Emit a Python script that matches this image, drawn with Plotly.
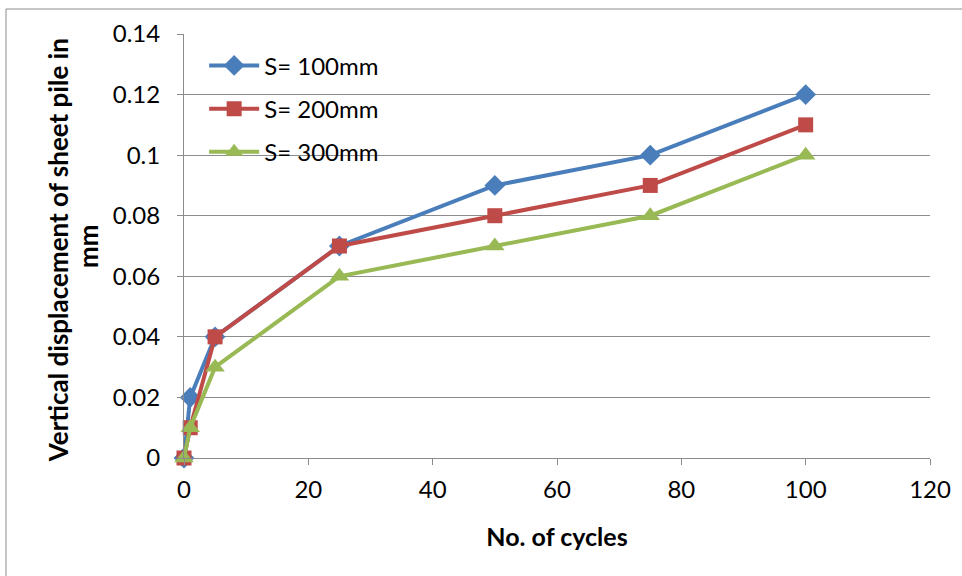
import plotly.graph_objects as go

cycles = [0, 1, 5, 25, 50, 75, 100]
s100 = [0, 0.02, 0.04, 0.07, 0.09, 0.10, 0.12]
s200 = [0, 0.01, 0.04, 0.07, 0.08, 0.09, 0.11]
s300 = [0, 0.01, 0.03, 0.06, 0.07, 0.08, 0.10]

series = [
    ("S= 100mm", s100, "#4A7EBB", "diamond", 16),
    ("S= 200mm", s200, "#BE4B48", "square", 15),
    ("S= 300mm", s300, "#98B954", "triangle-up", 17),
]

fig = go.Figure()
for name, ys, color, sym, size in series:
    fig.add_trace(go.Scatter(
        x=cycles, y=ys, name=name, legendgroup=name, mode="lines+markers",
        line=dict(color=color, width=4),
        marker=dict(symbol=sym, size=size, color=color),
        cliponaxis=False,
    ))

font_family = "Lato, Carlito, Calibri, sans-serif"
grey = "#8C8C8C"
tick_font = dict(size=24, color="black", family=font_family)

# plot area in pixels: x 184..930, y 34..458
L, R, T, B = 184, 32, 34, 118
PW, PH = 962 - L - R, 576 - T - B


def px_x(p):
    return (p - L) / PW


fig.update_layout(
    width=962, height=576,
    margin=dict(l=L, r=R, t=T, b=B),
    paper_bgcolor="white", plot_bgcolor="white",
    font=dict(family=font_family, color="black"),
    legend=dict(
        x=0.027, y=0.978, xanchor="left", yanchor="top",
        font=dict(size=24, family=font_family), bgcolor="rgba(0,0,0,0)",
        itemwidth=50, tracegroupgap=9,
    ),
    xaxis=dict(
        range=[0, 120], dtick=20, showgrid=False,
        showline=True, linecolor=grey, linewidth=1,
        ticks="outside", ticklen=6, tickcolor=grey,
        zeroline=False, tickfont=tick_font, ticklabelstandoff=4,
        title=dict(text="<b>No. of cycles</b>", font=dict(size=25), standoff=26),
    ),
    yaxis=dict(
        range=[0, 0.14], dtick=0.02, tickformat="~g",
        showgrid=True, gridcolor=grey, gridwidth=1,
        showline=True, linecolor=grey, linewidth=1,
        ticks="outside", ticklen=6, tickcolor=grey,
        zeroline=False, tickfont=tick_font, ticklabelstandoff=12,
    ),
    annotations=[
        dict(text="<b>Vertical displacement of sheet pile in</b>",
             xref="paper", yref="paper", x=px_x(58), y=0.49,
             textangle=-90, showarrow=False, font=dict(size=26),
             xanchor="center", yanchor="middle"),
        dict(text="<b>mm</b>",
             xref="paper", yref="paper", x=px_x(88), y=0.5,
             textangle=-90, showarrow=False, font=dict(size=26),
             xanchor="center", yanchor="middle"),
    ],
    shapes=[
        dict(type="rect", xref="paper", yref="paper",
             x0=px_x(6), x1=1.1, y0=-0.3, y1=(458 - 9) / PH,
             line=dict(color=grey, width=1), layer="below"),
    ],
)

fig.write_html("out.html")
